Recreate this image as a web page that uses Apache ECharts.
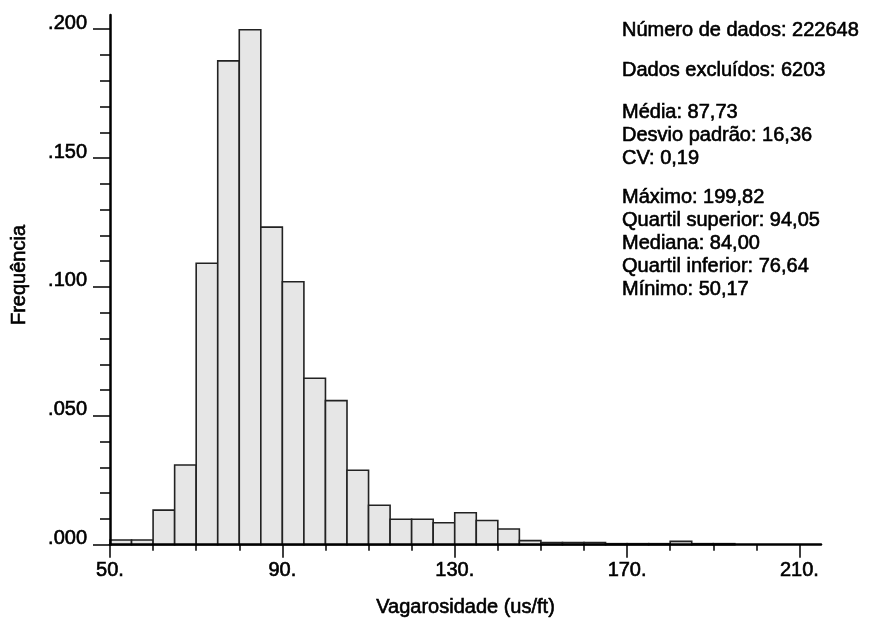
<!DOCTYPE html>
<html><head><meta charset="utf-8">
<script src="https://cdn.jsdelivr.net/npm/echarts@6/dist/echarts.min.js"></script>
<style>html,body{margin:0;padding:0;background:#fff}#c{width:869px;height:623px}</style>
</head><body><div id="c"></div>
<script>
// Histogram bins (lower edge, upper edge) and relative frequency
const binLower = [50,55,60,65,70,75,80,85,90,95,100,105,110,115,120,125,130,135,140,145,150,155,160,165,170,175,180,185,190];
const binUpper = [55,60,65,70,75,80,85,90,95,100,105,110,115,120,125,130,135,140,145,150,155,160,165,170,175,180,185,190,195];
const frequency = [0.0018,0.0018,0.0134,0.0309,0.1092,0.1877,0.1998,0.1232,0.1020,0.0646,0.0559,0.0289,0.0153,0.0099,0.0099,0.0085,0.0124,0.0094,0.0061,0.0016,0.0008,0.0008,0.0008,0.0004,0.0004,0.0004,0.0013,0.0004,0.0004];

const xMajorTicks = [50,90,130,170,210];
const xMinorTicks = [60,70,80,100,110,120,140,150,160,180,190,200];
const yMajorTicks = [0,0.05,0.10,0.15,0.20];
const yMinorTicks = [0.01,0.02,0.03,0.04,0.06,0.07,0.08,0.09,0.11,0.12,0.13,0.14,0.16,0.17,0.18,0.19];

const statsGroups = [
  ["Número de dados: 222648"],
  ["Dados excluídos: 6203"],
  ["Média: 87,73","Desvio padrão: 16,36","CV: 0,19"],
  ["Máximo: 199,82","Quartil superior: 94,05","Mediana: 84,00","Quartil inferior: 76,64","Mínimo: 50,17"]
];
const xTitle = "Vagarosidade (us/ft)";
const yTitle = "Frequência";

const FONT = "'Liberation Sans', Arial, sans-serif";
const FS = 20;
const SW = 0.6; // slight text thickening
const groupTops = [30, 70, 112, 197];
const lineStep = 23;

const graphics = [];
statsGroups.forEach((g, gi) => {
  g.forEach((t, li) => {
    graphics.push({type:'text', x:622, y: groupTops[gi] + li*lineStep,
      style:{text:t, fill:'#000', font: FS + 'px ' + FONT, verticalAlign:'middle', align:'left', stroke:'#000', lineWidth:SW}});
  });
});
graphics.push({type:'text', x:19, y:275, rotation:Math.PI/2,
  style:{text:yTitle, fill:'#000', font: FS + 'px ' + FONT, align:'center', verticalAlign:'middle', stroke:'#000', lineWidth:SW}});

const data = binLower.map((lo, i) => [lo, binUpper[i], frequency[i]]);

const chart = echarts.init(document.getElementById('c'), null, {renderer:'canvas'});
chart.setOption({
  animation:false,
  backgroundColor:'#fff',
  grid:{left:110, top:15, right:48, bottom:78},
  xAxis:[{
    type:'value', min:50, max:215, z:5,
    axisLine:{show:true, onZero:false, lineStyle:{color:'#000', width:2.5}},
    axisTick:{show:true, customValues:xMajorTicks, length:13, lineStyle:{color:'#000', width:1.5}},
    axisLabel:{customValues:xMajorTicks, formatter:v=>v+'.', color:'#000', fontFamily:FONT, fontSize:FS, margin:16, textBorderColor:'#000', textBorderWidth:SW},
    splitLine:{show:false},
    name:xTitle, nameLocation:'middle', nameGap:53,
    nameTextStyle:{color:'#000', fontFamily:FONT, fontSize:FS, textBorderColor:'#000', textBorderWidth:SW}
  },{
    type:'value', min:50, max:215, position:'bottom', z:5,
    axisLine:{show:false},
    axisTick:{show:true, customValues:xMinorTicks, length:6, lineStyle:{color:'#000', width:1.5}},
    axisLabel:{show:false}, splitLine:{show:false}
  }],
  yAxis:[{
    type:'value', min:0, max:0.2055, z:5,
    axisLine:{show:true, lineStyle:{color:'#000', width:2.5}},
    axisTick:{show:true, customValues:yMajorTicks, length:17, lineStyle:{color:'#000', width:1.5}},
    axisLabel:{customValues:yMajorTicks, formatter:v=>v.toFixed(3).replace(/^0/,''), color:'#000', fontFamily:FONT, fontSize:FS, margin:23, verticalAlign:'bottom', lineHeight:12, textBorderColor:'#000', textBorderWidth:SW},
    splitLine:{show:false}
  },{
    type:'value', min:0, max:0.2055, position:'left', z:5,
    axisLine:{show:false},
    axisTick:{show:true, customValues:yMinorTicks, length:10, lineStyle:{color:'#000', width:1.5}},
    axisLabel:{show:false}, splitLine:{show:false}
  }],
  series:[{
    type:'custom', xAxisIndex:0, yAxisIndex:0,
    encode:{x:[0,1], y:2},
    data:data,
    renderItem:function(params, api){
      const p0 = api.coord([api.value(0), api.value(2)]);
      const p1 = api.coord([api.value(1), 0]);
      return {type:'rect', shape:{x:p0[0], y:p0[1], width:p1[0]-p0[0], height:p1[1]-p0[1]},
        style:{fill:'#e6e6e6', stroke:'#222', lineWidth:1.6}};
    }
  }],
  graphic:graphics
});
</script></body></html>
